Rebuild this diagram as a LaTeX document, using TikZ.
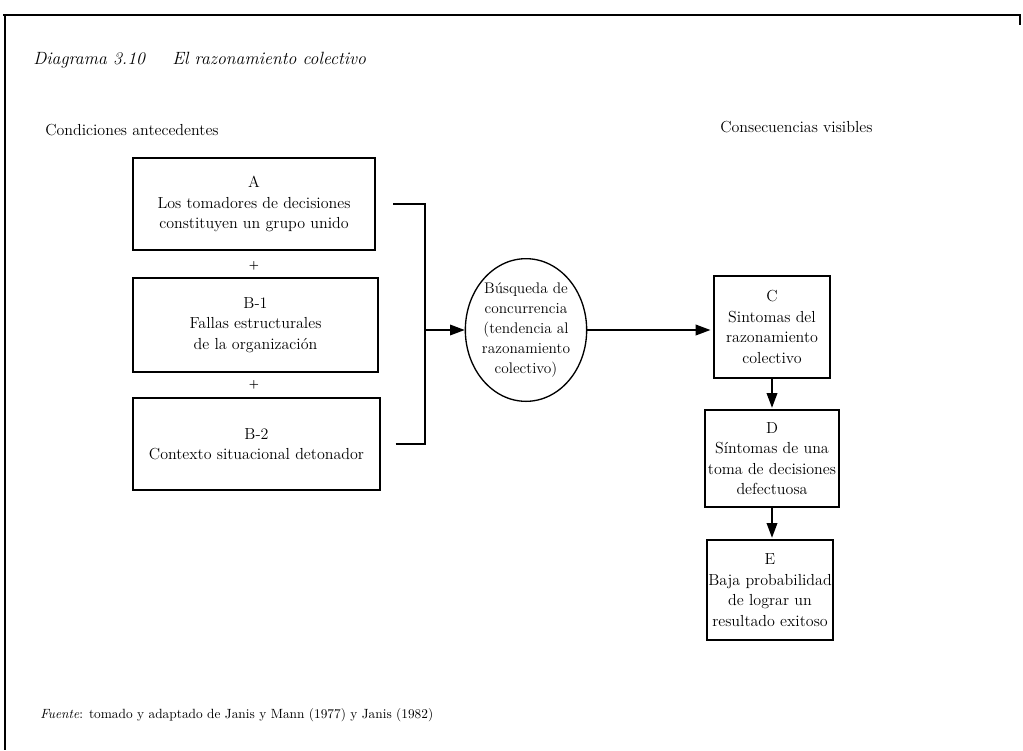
\documentclass[tikz,border=0pt]{standalone}
\usetikzlibrary{arrows.meta,shapes.geometric}
\newcommand\bodyfont{\fontsize{12}{15.4}\selectfont}
\newcommand\titlefont{\fontsize{13.3}{16}\selectfont\itshape}
\begin{document}
\begin{tikzpicture}[x=0.75pt,y=-0.75pt,
    box/.style={draw,line width=1.4pt,align=center,inner sep=1pt,font=\bodyfont},
    label/.style={anchor=base west,inner sep=0pt},
    plus/.style={font=\footnotesize\bfseries,inner sep=0pt},
    link/.style={line width=1pt},
    arr/.style={line width=1pt,-{Triangle[length=11pt,width=8pt]}}]
    \useasboundingbox (0,0) rectangle (1023,750);
    % frame
    \draw [line width=1.2pt] (3,15) -- (1020,15) -- (1020,25);
    \draw [line width=1.2pt] (5,15) -- (5,750);
    % headings
    \node [label,font=\titlefont] (num) at (33,64) {Diagrama 3.10};
    \node [label,font=\titlefont] (title) at (172,64) {El razonamiento colectivo};
    \node [label,font=\bodyfont] (cond) at (45,135) {Condiciones antecedentes};
    \node [label,font=\bodyfont] (cons) at (720,132) {Consecuencias visibles};
    % antecedents
    \node [box,minimum width=181.5pt,minimum height=69pt] (A) at (254,204)
        {A\\Los tomadores de decisiones\\constituyen un grupo unido};
    \node [plus] (p1) at (254,266) {+};
    \node [box,minimum width=183.7pt,minimum height=70.5pt] (B1) at (255.5,325)
        {B-1\\Fallas estructurales\\de la organización};
    \node [plus] (p2) at (254,385) {+};
    \node [box,minimum width=185.2pt,minimum height=69pt] (B2) at (256.5,444)
        {B-2\\Contexto situacional detonador};
    % concurrence seeking
    \node [ellipse,draw,line width=1pt,minimum width=91pt,minimum height=107pt,
        inner sep=-10pt,align=center,font=\fontsize{11.5}{15}\selectfont] (busq) at (526,330)
        {Búsqueda de\\concurrencia\\(tendencia al\\razonamiento\\colectivo)};
    % consequences
    \node [box,minimum width=87pt,minimum height=76.5pt] (C) at (772,327)
        {C\\Sintomas del\\razonamiento\\colectivo};
    \node [box,minimum width=100pt,minimum height=72.7pt] (D) at (772,458.5)
        {D\\Síntomas de una\\toma de decisiones\\defectuosa};
    \node [box,minimum width=92pt,minimum height=75pt] (E) at (770,590)
        {E\\Baja probabilidad\\de lograr un\\resultado exitoso};
    \node [label,font=\fontsize{10}{13}\selectfont] (src) at (40,718)
        {\textit{Fuente}: tomado y adaptado de Janis y Mann (1977) y Janis (1982)};
    % connectors
    \coordinate (join) at (425,330);
    \draw [link] ([xshift=13pt]A.east) -| (join);
    \draw [link] ([xshift=11pt]B2.east) -| (join);
    \draw [arr] (join) -- (busq.west);
    \draw [arr,shorten >=2pt] (busq.east) -- (busq.east -| C.west);
    \draw [arr,shorten >=1pt] (C.south) -- (D.north);
    \draw [arr,shorten >=1pt] (D.south) -- (D.south |- E.north);
\end{tikzpicture}
\end{document}
